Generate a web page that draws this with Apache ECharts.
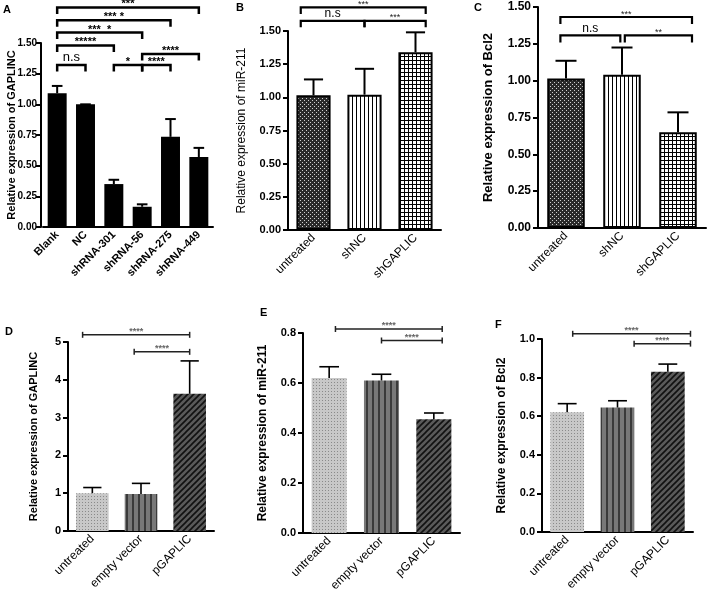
<!DOCTYPE html>
<html><head><meta charset="utf-8">
<script src="https://cdn.jsdelivr.net/npm/echarts@6/dist/echarts.min.js"></script>
<style>html,body{margin:0;padding:0;background:#fff}#c{width:709px;height:604px}</style>
</head><body><div id="c"></div>
<script>
// ---------- data ----------
const catsA = ['Blank','NC','shRNA-301','shRNA-56','shRNA-275','shRNA-449'];
const valsA = [1.09, 1.00, 0.35, 0.165, 0.735, 0.57];
const errA  = [1.15, 1.00, 0.385, 0.185, 0.88, 0.645];
const catsB = ['untreated','shNC','shGAPLIC'];
const valsB = [1.015, 1.02, 1.34];
const errB  = [1.135, 1.215, 1.49];
const catsC = ['untreated','shNC','shGAPLIC'];
const valsC = [1.015, 1.04, 0.65];
const errC  = [1.135, 1.225, 0.785];
const catsD = ['untreated','empty vector','pGAPLIC'];
const valsD = [1.0, 0.98, 3.63];
const errD  = [1.15, 1.26, 4.5];
const catsE = ['untreated','empty vector','pGAPLIC'];
const valsE = [0.62, 0.61, 0.455];
const errE  = [0.665, 0.635, 0.48];
const catsF = ['untreated','empty vector','pGAPLIC'];
const valsF = [0.62, 0.645, 0.83];
const errF  = [0.665, 0.68, 0.87];
// significance brackets: [from category, to category, level, label]
const sigA = [[0,5,1.79,'***'],[0,4,1.685,'*** *'],[0,3,1.585,'***  *'],[0,2,1.48,'*****'],
              [0,1,1.32,'n.s'],[2,3,1.32,'*'],[3,4,1.32,'****'],[3,5,1.41,'****']];
const sigB = [[-0.25,2.2,1.678,'***'],[-0.25,1,1.577,'n.s'],[1,2.2,1.577,'***']];
const sigC = [[-0.1,2.25,1.432,'***'],[-0.1,0.97,1.307,'n.s'],[1.05,2.25,1.307,'**']];
const sigD = [[-0.2,2,5.19,'****'],[0.86,2,4.74,'****']];
const sigE = [[0.12,2.16,0.816,'****'],[1,2.16,0.77,'****']];
const sigF = [[0.11,2.45,1.027,'****'],[1.33,2.45,0.976,'****']];
const titles = ['Relative expression of GAPLINC','Relative expression of miR-211','Relative expression of Bcl2',
                'Relative expression of GAPLINC','Relative expression of miR-211','Relative expression of Bcl2'];
const letters = ['A','B','C','D','E','F'];

// ---------- patterns ----------
function pat(w,h,draw){const c=document.createElement('canvas');c.width=w;c.height=h;const g=c.getContext('2d');draw(g);return {image:c,repeat:'repeat'};}
const patCheck = pat(4,4,g=>{g.fillStyle='#2a2a2a';g.fillRect(0,0,4,4);g.fillStyle='#d0d0d0';g.fillRect(0,0,1,1);g.fillRect(2,2,1,1);});
const patVert  = pat(4,1,g=>{g.fillStyle='#fff';g.fillRect(0,0,4,1);g.fillStyle='#000';g.fillRect(0,0,1,1);});
const patGrid  = pat(4,4,g=>{g.fillStyle='#fff';g.fillRect(0,0,4,4);g.fillStyle='#000';g.fillRect(0,0,4,1);g.fillRect(0,0,1,4);});
const patDots  = pat(3,3,g=>{g.fillStyle='#c8c8c8';g.fillRect(0,0,3,3);g.fillStyle='#8a8a8a';g.fillRect(1,1,1,1);});
const patStripe= pat(6,1,g=>{g.fillStyle='#787878';g.fillRect(0,0,6,1);g.fillStyle='#3a3a3a';g.fillRect(0,0,2,1);});
const patDiag  = pat(6,6,g=>{g.fillStyle='#5a5a5a';g.fillRect(0,0,6,6);g.strokeStyle='#111';g.lineWidth=1.6;g.beginPath();
  g.moveTo(-1,7);g.lineTo(7,-1);g.moveTo(-1,1);g.lineTo(1,-1);g.moveTo(5,7);g.lineTo(7,5);g.stroke();});

const FF = '"Liberation Sans", Arial, sans-serif';
const panels = [
  {cats:catsA, vals:valsA, err:errA, sig:sigA, max:1.5, iv:0.25, dec:2, grid:{left:43,top:43,width:170,height:184},
   fills:['#000','#000','#000','#000','#000','#000'], border:0, yOff:2, ylab:{fontSize:10,fontWeight:'bold',margin:4}, xlab:{fontSize:11,fontWeight:'bold'},
   title:{fontSize:11,fontWeight:'bold',gap:24}, bstyle:'legs', lw:2.5, drop:6.5, star:'bold 11px '+FF, ns:'13px '+FF, scol:'#000', elw:2},
  {cats:catsB, vals:valsB, err:errB, sig:sigB, max:1.5, iv:0.25, dec:2, grid:{left:288,top:31,width:153,height:199},
   fills:[patCheck,patVert,patGrid], border:2, yOff:0, ylab:{fontSize:11,fontWeight:'bold',margin:7}, xlab:{fontSize:12,fontWeight:'normal'},
   title:{fontSize:12,fontWeight:'normal',gap:40}, bstyle:'legs', lw:2.2, drop:6.5, star:'9px '+FF, ns:'12px '+FF, scol:'#222', elw:2},
  {cats:catsC, vals:valsC, err:errC, sig:sigC, max:1.5, iv:0.25, dec:2, grid:{left:538,top:7,width:168,height:221},
   fills:[patCheck,patVert,patGrid], border:2, yOff:0, ylab:{fontSize:12,fontWeight:'bold',margin:7}, xlab:{fontSize:12,fontWeight:'normal'},
   title:{fontSize:13,fontWeight:'bold',gap:43}, bstyle:'legs', lw:2.2, drop:7, star:'9px '+FF, ns:'12px '+FF, scol:'#222', elw:2},
  {cats:catsD, vals:valsD, err:errD, sig:sigD, max:5, iv:1, dec:0, grid:{left:68,top:342,width:146,height:189},
   fills:[patDots,patStripe,patDiag], border:0, yOff:0, ylab:{fontSize:11,fontWeight:'bold',margin:7}, xlab:{fontSize:12,fontWeight:'normal'},
   title:{fontSize:11,fontWeight:'bold',gap:29}, bstyle:'caps', lw:1.5, drop:3, star:'bold 9px '+FF, ns:'9px '+FF, scol:'#666', elw:1.6},
  {cats:catsE, vals:valsE, err:errE, sig:sigE, max:0.8, iv:0.2, dec:1, grid:{left:303,top:333,width:157,height:200},
   fills:[patDots,patStripe,patDiag], border:0, yOff:0, ylab:{fontSize:11,fontWeight:'bold',margin:7}, xlab:{fontSize:12,fontWeight:'normal'},
   title:{fontSize:12,fontWeight:'bold',gap:34}, bstyle:'caps', lw:1.5, drop:3, star:'bold 9px '+FF, ns:'9px '+FF, scol:'#666', elw:1.6},
  {cats:catsF, vals:valsF, err:errF, sig:sigF, max:1.0, iv:0.2, dec:1, grid:{left:542,top:339,width:151,height:193},
   fills:[patDots,patStripe,patDiag], border:0, yOff:0, ylab:{fontSize:11,fontWeight:'bold',margin:7}, xlab:{fontSize:12,fontWeight:'normal'},
   title:{fontSize:12,fontWeight:'bold',gap:34}, bstyle:'caps', lw:1.5, drop:3, star:'bold 9px '+FF, ns:'9px '+FF, scol:'#666', elw:1.6}
];
const letterPos = [[3,4],[236,2],[474,2],[5,326],[260,307],[495,319]];

const grids=[], xAxes=[], yAxes=[], series=[];
const BW = 0.67;
panels.forEach((p,i)=>{
  grids.push(Object.assign({containLabel:false, outerBoundsMode:'none'}, p.grid));
  xAxes.push({type:'category', gridIndex:i, data:p.cats,
    axisLine:{lineStyle:{color:'#000',width:2}},
    axisTick:{alignWithLabel:true, length:4, lineStyle:{color:'#000',width:2}},
    axisLabel:{rotate:45, margin:6, color:'#000', fontFamily:FF, fontSize:p.xlab.fontSize, fontWeight:p.xlab.fontWeight, interval:0},
    splitLine:{show:false}});
  yAxes.push({type:'value', gridIndex:i, min:0, max:p.max, interval:p.iv, offset:p.yOff,
    name:titles[i], nameLocation:'middle', nameRotate:90, nameGap:p.title.gap, nameMoveOverlap:false,
    nameTextStyle:{color:'#000', fontFamily:FF, fontSize:p.title.fontSize, fontWeight:p.title.fontWeight},
    axisLine:{show:true, lineStyle:{color:'#000',width:2}},
    axisTick:{show:true, length:5, lineStyle:{color:'#000',width:2}},
    axisLabel:{margin:p.ylab.margin, color:'#000', fontFamily:FF, fontSize:p.ylab.fontSize, fontWeight:p.ylab.fontWeight,
      formatter:v=>v.toFixed(p.dec)},
    splitLine:{show:false}});
  series.push({type:'bar', xAxisIndex:i, yAxisIndex:i, barWidth:(BW*100)+'%', silent:true, z:2,
    data:p.vals.map((v,k)=>({value:v, itemStyle:{color:p.fills[k], borderColor:'#000', borderWidth:p.border}}))});
  // error bars (upper whisker)
  series.push({type:'custom', xAxisIndex:i, yAxisIndex:i, silent:true, z:3, clip:false,
    data:p.vals.map((v,k)=>[k, v, p.err[k]]),
    encode:{x:0, y:[1,2]},
    renderItem:(params, api)=>{
      const x=api.value(0), v=api.value(1), e=api.value(2);
      const a=api.coord([x,v]), b=api.coord([x,e]);
      const cw=api.size([1,0])[0]*BW*0.28;
      const st={stroke:'#000', lineWidth:p.elw};
      return {type:'group', children:[
        {type:'line', shape:{x1:a[0],y1:a[1],x2:b[0],y2:b[1]}, style:st},
        {type:'line', shape:{x1:b[0]-cw,y1:b[1],x2:b[0]+cw,y2:b[1]}, style:st}]};
    }});
  // significance brackets
  series.push({type:'custom', xAxisIndex:i, yAxisIndex:i, silent:true, z:4, clip:false,
    data:p.sig.map(s=>[Math.max(0,Math.round(s[0])), s[2]]),
    encode:{x:0, y:1},
    renderItem:(params, api)=>{
      const s=p.sig[params.dataIndex];
      const c0=api.coord([0,s[2]]), c1=api.coord([1,s[2]]);
      const band=c1[0]-c0[0];
      const xa=c0[0]+s[0]*band, xb=c0[0]+s[1]*band, y=c0[1];
      const lineCol = p.bstyle==='legs' ? '#000' : '#222';
      const ch=[];
      if(p.bstyle==='legs'){
        ch.push({type:'polyline', shape:{points:[[xa,y+p.drop],[xa,y],[xb,y],[xb,y+p.drop]]},
          style:{stroke:lineCol, lineWidth:p.lw, fill:null, lineJoin:'miter'}});
      } else {
        ch.push({type:'line', shape:{x1:xa,y1:y,x2:xb,y2:y}, style:{stroke:lineCol, lineWidth:p.lw}});
        ch.push({type:'line', shape:{x1:xa,y1:y-p.drop,x2:xa,y2:y+p.drop}, style:{stroke:lineCol, lineWidth:p.lw}});
        ch.push({type:'line', shape:{x1:xb,y1:y-p.drop,x2:xb,y2:y+p.drop}, style:{stroke:lineCol, lineWidth:p.lw}});
      }
      const isNs = s[3]==='n.s';
      ch.push({type:'text', style:{text:s[3], x:(xa+xb)/2, y: isNs ? y-1 : y-3,
        align:'center', verticalAlign: isNs ? 'bottom' : 'middle',
        font: isNs ? p.ns : p.star, fill: isNs ? '#000' : p.scol}});
      return {type:'group', children:ch};
    }});
});

const chart = echarts.init(document.getElementById('c'), null, {renderer:'canvas'});
chart.setOption({
  animation:false, backgroundColor:'#fff',
  grid:grids, xAxis:xAxes, yAxis:yAxes, series:series,
  graphic: letters.map((t,i)=>({type:'text', left:letterPos[i][0], top:letterPos[i][1],
    style:{text:t, font:'bold 11px '+FF, fill:'#000'}}))
});
</script>
</body></html>
